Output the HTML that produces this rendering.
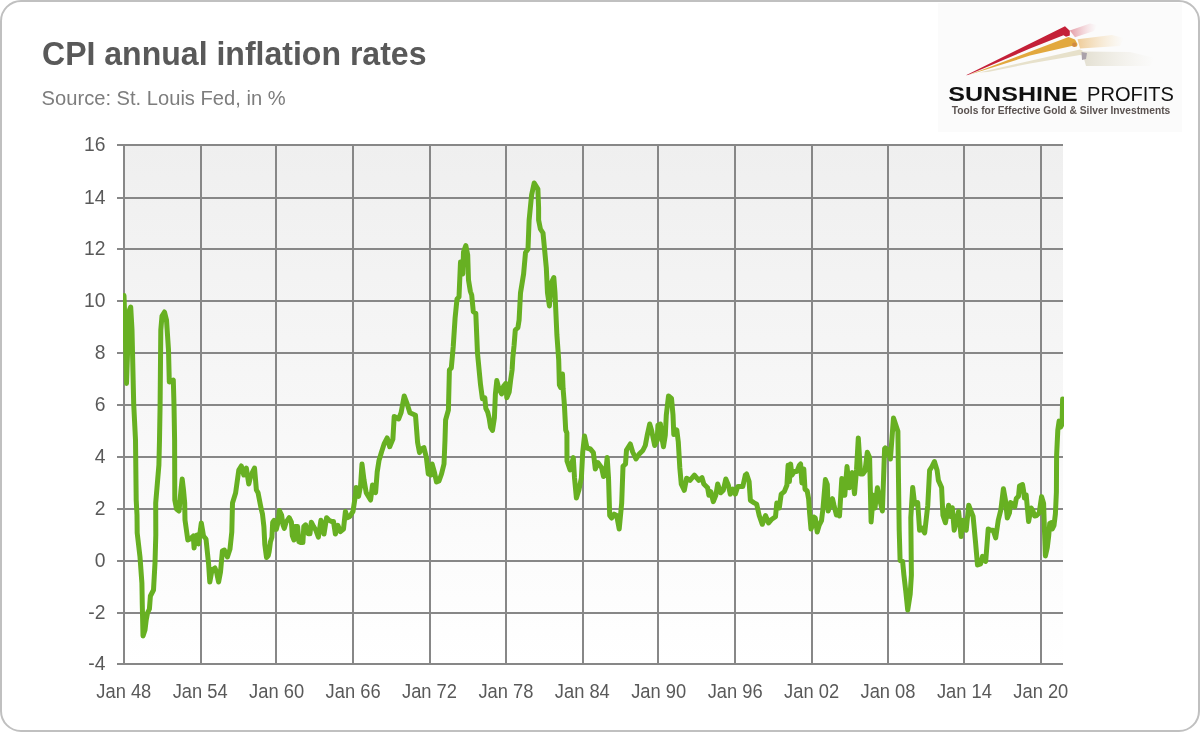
<!DOCTYPE html>
<html><head><meta charset="utf-8"><style>
html,body{margin:0;padding:0;background:#fff;width:1200px;height:732px;overflow:hidden}
svg{display:block;will-change:transform}
text{font-family:"Liberation Sans",sans-serif}
</style></head><body>
<svg width="1200" height="732" viewBox="0 0 1200 732">
<defs>
<linearGradient id="bg" x1="0" y1="0" x2="0" y2="1">
<stop offset="0" stop-color="#efefef"/><stop offset="1" stop-color="#ffffff"/>
</linearGradient>
<linearGradient id="fr" x1="0" y1="0" x2="1" y2="0">
<stop offset="0" stop-color="#c8283c"/><stop offset="0.7" stop-color="#c8283c"/><stop offset="1" stop-color="#c8283c" stop-opacity="0"/>
</linearGradient>
</defs>
<rect x="1" y="1" width="1198" height="730" rx="20" ry="20" fill="#fff" stroke="#c0c0c0" stroke-width="2"/>

<rect x="124" y="145" width="939" height="519" fill="url(#bg)"/>
<line x1="117" y1="145" x2="1063" y2="145" stroke="#878787" stroke-width="2"/>
<line x1="117" y1="198" x2="1063" y2="198" stroke="#878787" stroke-width="2"/>
<line x1="117" y1="249" x2="1063" y2="249" stroke="#878787" stroke-width="2"/>
<line x1="117" y1="301" x2="1063" y2="301" stroke="#878787" stroke-width="2"/>
<line x1="117" y1="353" x2="1063" y2="353" stroke="#878787" stroke-width="2"/>
<line x1="117" y1="405" x2="1063" y2="405" stroke="#878787" stroke-width="2"/>
<line x1="117" y1="457" x2="1063" y2="457" stroke="#878787" stroke-width="2"/>
<line x1="117" y1="509" x2="1063" y2="509" stroke="#878787" stroke-width="2"/>
<line x1="117" y1="561" x2="1063" y2="561" stroke="#878787" stroke-width="2"/>
<line x1="117" y1="613" x2="1063" y2="613" stroke="#878787" stroke-width="2"/>
<line x1="117" y1="664" x2="1063" y2="664" stroke="#878787" stroke-width="2"/>
<line x1="124" y1="144" x2="124" y2="665" stroke="#878787" stroke-width="2"/>
<line x1="201" y1="144" x2="201" y2="665" stroke="#878787" stroke-width="2"/>
<line x1="276" y1="144" x2="276" y2="665" stroke="#878787" stroke-width="2"/>
<line x1="353" y1="144" x2="353" y2="665" stroke="#878787" stroke-width="2"/>
<line x1="430" y1="144" x2="430" y2="665" stroke="#878787" stroke-width="2"/>
<line x1="506" y1="144" x2="506" y2="665" stroke="#878787" stroke-width="2"/>
<line x1="583" y1="144" x2="583" y2="665" stroke="#878787" stroke-width="2"/>
<line x1="658" y1="144" x2="658" y2="665" stroke="#878787" stroke-width="2"/>
<line x1="735" y1="144" x2="735" y2="665" stroke="#878787" stroke-width="2"/>
<line x1="812" y1="144" x2="812" y2="665" stroke="#878787" stroke-width="2"/>
<line x1="888" y1="144" x2="888" y2="665" stroke="#878787" stroke-width="2"/>
<line x1="964" y1="144" x2="964" y2="665" stroke="#878787" stroke-width="2"/>
<line x1="1041" y1="144" x2="1041" y2="665" stroke="#878787" stroke-width="2"/>
<text x="105.5" y="151.2" font-size="19.3" fill="#595959" text-anchor="end">16</text>
<text x="105.5" y="204.2" font-size="19.3" fill="#595959" text-anchor="end">14</text>
<text x="105.5" y="255.2" font-size="19.3" fill="#595959" text-anchor="end">12</text>
<text x="105.5" y="307.2" font-size="19.3" fill="#595959" text-anchor="end">10</text>
<text x="105.5" y="359.2" font-size="19.3" fill="#595959" text-anchor="end">8</text>
<text x="105.5" y="411.2" font-size="19.3" fill="#595959" text-anchor="end">6</text>
<text x="105.5" y="463.2" font-size="19.3" fill="#595959" text-anchor="end">4</text>
<text x="105.5" y="515.2" font-size="19.3" fill="#595959" text-anchor="end">2</text>
<text x="105.5" y="567.2" font-size="19.3" fill="#595959" text-anchor="end">0</text>
<text x="105.5" y="619.2" font-size="19.3" fill="#595959" text-anchor="end">-2</text>
<text x="105.5" y="670.2" font-size="19.3" fill="#595959" text-anchor="end">-4</text>
<text x="123.8" y="698" font-size="19.3" fill="#595959" text-anchor="middle" textLength="55" lengthAdjust="spacingAndGlyphs">Jan 48</text>
<text x="200.2" y="698" font-size="19.3" fill="#595959" text-anchor="middle" textLength="55" lengthAdjust="spacingAndGlyphs">Jan 54</text>
<text x="276.6" y="698" font-size="19.3" fill="#595959" text-anchor="middle" textLength="55" lengthAdjust="spacingAndGlyphs">Jan 60</text>
<text x="353.1" y="698" font-size="19.3" fill="#595959" text-anchor="middle" textLength="55" lengthAdjust="spacingAndGlyphs">Jan 66</text>
<text x="429.5" y="698" font-size="19.3" fill="#595959" text-anchor="middle" textLength="55" lengthAdjust="spacingAndGlyphs">Jan 72</text>
<text x="505.9" y="698" font-size="19.3" fill="#595959" text-anchor="middle" textLength="55" lengthAdjust="spacingAndGlyphs">Jan 78</text>
<text x="582.3" y="698" font-size="19.3" fill="#595959" text-anchor="middle" textLength="55" lengthAdjust="spacingAndGlyphs">Jan 84</text>
<text x="658.7" y="698" font-size="19.3" fill="#595959" text-anchor="middle" textLength="55" lengthAdjust="spacingAndGlyphs">Jan 90</text>
<text x="735.2" y="698" font-size="19.3" fill="#595959" text-anchor="middle" textLength="55" lengthAdjust="spacingAndGlyphs">Jan 96</text>
<text x="811.6" y="698" font-size="19.3" fill="#595959" text-anchor="middle" textLength="55" lengthAdjust="spacingAndGlyphs">Jan 02</text>
<text x="888.0" y="698" font-size="19.3" fill="#595959" text-anchor="middle" textLength="55" lengthAdjust="spacingAndGlyphs">Jan 08</text>
<text x="964.4" y="698" font-size="19.3" fill="#595959" text-anchor="middle" textLength="55" lengthAdjust="spacingAndGlyphs">Jan 14</text>
<text x="1040.8" y="698" font-size="19.3" fill="#595959" text-anchor="middle" textLength="55" lengthAdjust="spacingAndGlyphs">Jan 20</text>
<text x="42" y="65.3" font-size="33.4" font-weight="bold" fill="#595959" textLength="384.5" lengthAdjust="spacingAndGlyphs">CPI annual inflation rates</text>
<text x="41.6" y="104.9" font-size="20" fill="#7d7d7d" textLength="244" lengthAdjust="spacingAndGlyphs">Source: St. Louis Fed, in %</text>
<rect x="938" y="3" width="244" height="129" fill="#fbfbfb"/>
<defs>
<linearGradient id="tp" x1="0" y1="0" x2="1" y2="0"><stop offset="0" stop-color="#dc7a88" stop-opacity="0.75"/><stop offset="1" stop-color="#f0b8c0" stop-opacity="0"/></linearGradient>
<linearGradient id="tg" x1="0" y1="0" x2="1" y2="0"><stop offset="0" stop-color="#ecc080" stop-opacity="0.8"/><stop offset="1" stop-color="#f4dcb0" stop-opacity="0"/></linearGradient>
<linearGradient id="tb" x1="0" y1="0" x2="1" y2="0"><stop offset="0" stop-color="#e0dccc" stop-opacity="0.9"/><stop offset="1" stop-color="#ece8dc" stop-opacity="0"/></linearGradient>
</defs>
<polygon points="1069.8,30.6 1090,23.5 1097,25 1094,31 1075,37.3" fill="url(#tp)"/>
<polygon points="1077.5,39.2 1112,35 1124,38 1120,46 1080,48.5" fill="url(#tg)"/>
<polygon points="1082,51.5 1130,52 1155,58 1150,66 1086,66" fill="url(#tb)"/>
<polygon points="979,72.5 1080,49.5 1082.5,50.5 1082.5,55.5 1080,55 1030,63.5 988,72" fill="#e7e1cb"/>
<polygon points="1081.5,52 1087,53 1086,59 1082,60" fill="#aaa2aa"/>
<polygon points="968.5,75 1068.5,37 1075,39.5 1077.5,44 1077,46.6 1071.7,46 1030,55.6 975,73" fill="#e2a83e"/>
<circle cx="1074.3" cy="44.8" r="2.2" fill="#d08a44"/>
<polygon points="966,75.2 1065,26.3 1069.8,30.8 1069.8,35.6 1066,36.8 1063.5,35.2 1030,48.6 968,75" fill="#c42038"/>
<text x="948.3" y="101.3" font-size="20.3" font-weight="bold" fill="#111111" textLength="129.5" lengthAdjust="spacingAndGlyphs">SUNSHINE</text>
<text x="1087" y="101.3" font-size="20.3" fill="#111111" textLength="87" lengthAdjust="spacingAndGlyphs">PROFITS</text>
<text x="951.8" y="113.6" font-size="10.6" font-weight="bold" fill="#5a5250" textLength="218.5" lengthAdjust="spacingAndGlyphs">Tools for Effective Gold &amp; Silver Investments</text>

<clipPath id="pc"><rect x="123" y="100" width="941" height="600"/></clipPath>
<path d="M124.0,295.5 L125.5,340.0 L126.5,383.5 L128.0,340.0 L129.5,310.0 L130.7,307.0 L132.0,330.0 L133.7,404.0 L135.5,440.0 L136.2,500.0 L137.0,515.0 L137.2,533.0 L140.0,557.0 L141.9,583.0 L142.3,605.0 L143.0,636.0 L145.0,630.0 L146.2,620.0 L147.5,613.0 L149.4,609.0 L150.4,596.0 L153.5,590.0 L155.0,563.0 L155.8,535.0 L155.7,503.0 L158.9,465.0 L159.5,440.0 L160.1,405.0 L160.8,330.0 L162.0,316.0 L164.5,312.0 L166.5,320.0 L168.5,350.0 L169.3,382.0 L171.0,381.0 L173.3,380.0 L174.0,405.0 L174.6,440.0 L174.8,500.0 L176.5,509.0 L179.0,511.0 L181.0,490.0 L182.2,479.0 L183.5,490.0 L184.7,503.0 L185.0,520.0 L187.8,540.0 L190.0,539.0 L193.3,536.0 L194.1,548.0 L195.5,536.0 L197.2,535.0 L198.5,544.0 L201.3,523.0 L203.5,536.0 L206.0,539.0 L208.6,564.0 L209.8,582.0 L212.0,570.0 L214.9,568.0 L216.5,572.0 L218.6,582.0 L220.5,572.0 L222.4,551.0 L224.3,550.0 L227.4,557.0 L230.0,549.0 L231.8,532.0 L232.5,503.0 L235.6,493.0 L238.8,470.0 L241.3,466.0 L243.8,475.0 L246.3,468.0 L248.8,484.0 L251.0,475.0 L254.5,468.0 L256.4,490.0 L258.0,492.6 L261.2,508.9 L262.5,514.2 L263.9,526.6 L264.8,544.4 L266.5,557.5 L268.3,555.5 L269.2,551.5 L270.5,541.7 L271.9,537.3 L272.7,522.2 L274.1,520.4 L276.3,529.3 L278.1,522.2 L279.4,510.6 L281.6,515.1 L283.0,524.8 L284.3,528.4 L286.1,522.2 L289.2,517.7 L291.4,522.2 L292.3,535.5 L294.0,540.0 L294.9,526.6 L297.6,526.6 L298.9,541.7 L301.1,542.6 L302.9,542.6 L303.8,526.6 L305.6,524.8 L308.2,533.7 L310.0,533.7 L311.3,522.2 L313.6,526.6 L315.9,530.3 L318.4,537.2 L320.9,520.3 L322.2,524.0 L324.0,534.0 L326.6,517.7 L329.0,520.3 L331.6,521.5 L333.5,521.5 L335.4,534.0 L337.9,525.3 L340.4,531.6 L343.5,529.0 L345.4,511.4 L347.3,517.7 L349.8,516.5 L353.0,511.4 L354.9,498.9 L356.1,487.5 L358.6,496.4 L360.5,486.3 L362.0,464.0 L364.0,480.0 L366.2,492.6 L370.6,500.0 L372.5,485.0 L375.6,492.6 L377.2,472.0 L379.0,460.5 L381.6,451.7 L384.1,444.0 L387.2,437.9 L389.7,446.7 L392.9,439.0 L394.2,416.5 L398.6,419.0 L401.1,412.7 L404.2,396.0 L406.7,402.6 L409.9,412.7 L415.5,415.2 L417.6,442.6 L419.5,452.6 L421.5,449.0 L423.9,447.6 L426.4,457.7 L428.3,474.0 L430.8,475.0 L432.1,464.0 L434.6,473.0 L436.5,482.0 L439.0,481.0 L441.5,474.0 L444.0,464.0 L445.0,440.0 L445.6,420.0 L448.4,410.0 L449.4,370.0 L451.3,368.0 L453.2,347.0 L455.1,318.0 L457.0,299.0 L459.0,297.0 L460.5,262.0 L462.8,274.0 L463.5,252.0 L465.8,245.5 L467.7,255.0 L468.5,280.0 L470.4,291.5 L471.7,295.0 L473.3,311.7 L475.8,313.3 L477.5,353.3 L480.5,384.4 L482.4,398.7 L484.8,397.8 L485.8,408.3 L487.7,412.1 L489.1,417.8 L490.6,427.4 L492.5,430.3 L494.4,417.8 L495.4,393.9 L496.8,380.5 L498.7,388.2 L501.6,393.9 L503.5,386.3 L505.9,383.4 L506.8,397.8 L509.2,392.0 L510.7,379.6 L512.1,370.0 L512.8,357.8 L514.1,345.2 L515.3,330.0 L517.9,327.6 L519.1,320.0 L520.5,293.0 L523.6,274.0 L525.5,252.6 L528.0,249.0 L529.1,220.3 L531.6,195.0 L534.2,183.0 L537.9,189.0 L538.6,208.0 L538.6,220.0 L540.4,229.0 L543.0,233.0 L544.2,245.5 L546.3,267.7 L547.5,293.0 L549.4,306.0 L551.3,283.0 L553.8,277.5 L555.0,293.0 L556.9,335.0 L558.7,360.0 L559.4,385.0 L560.6,387.5 L562.5,374.0 L563.1,388.8 L564.4,405.0 L565.7,430.0 L566.9,433.0 L567.0,461.0 L570.1,470.0 L573.3,457.6 L574.5,477.7 L576.4,498.0 L578.9,490.0 L581.4,477.7 L582.7,452.6 L584.5,436.0 L587.0,448.0 L590.3,449.0 L593.4,452.6 L595.3,469.0 L597.8,462.6 L601.6,467.7 L603.5,476.5 L605.3,475.2 L607.2,457.6 L608.5,477.7 L609.7,515.5 L611.6,518.0 L614.2,514.2 L616.7,515.5 L619.2,529.0 L621.7,503.0 L623.0,466.4 L625.5,464.0 L626.5,450.0 L630.3,444.0 L632.7,452.0 L636.0,459.0 L639.0,454.3 L642.8,450.5 L645.3,445.5 L647.2,435.4 L649.7,424.0 L651.6,430.4 L654.7,445.5 L657.2,440.4 L657.9,425.3 L660.4,424.0 L662.3,440.4 L663.5,446.7 L665.3,435.0 L666.3,415.0 L668.5,396.0 L671.5,398.5 L673.0,415.0 L673.8,434.6 L676.8,430.0 L678.3,442.0 L679.8,467.7 L681.3,484.2 L684.3,490.3 L686.6,478.2 L690.0,480.3 L694.4,475.2 L698.8,480.3 L702.0,477.7 L703.8,484.0 L707.6,487.8 L708.9,495.3 L710.8,491.6 L713.3,501.6 L715.8,495.3 L717.7,484.0 L720.8,492.8 L723.3,490.3 L725.8,479.0 L728.4,485.3 L730.3,494.1 L732.8,489.0 L735.3,494.1 L737.8,486.5 L742.8,486.5 L745.3,475.2 L746.6,474.0 L749.1,481.5 L750.4,500.4 L754.2,502.9 L756.7,504.2 L759.2,515.5 L762.3,524.3 L765.5,515.5 L768.6,523.0 L771.8,519.2 L775.5,516.7 L776.8,502.9 L779.3,507.9 L781.2,494.1 L784.3,491.6 L786.9,485.3 L788.1,465.2 L789.4,481.5 L790.6,463.9 L791.9,475.2 L794.4,471.4 L796.9,471.4 L799.4,465.2 L800.6,464.0 L801.9,482.9 L803.8,469.0 L805.0,489.2 L807.2,491.0 L808.6,498.7 L809.6,513.0 L811.0,529.0 L812.5,525.0 L813.9,517.0 L815.3,518.0 L817.2,532.0 L819.1,525.5 L821.5,520.7 L823.0,508.3 L825.4,479.6 L827.3,484.4 L828.2,511.1 L830.6,503.5 L832.5,498.7 L834.0,505.4 L836.4,515.0 L838.3,513.1 L839.5,516.0 L841.8,478.6 L844.8,495.2 L847.0,466.6 L849.3,487.7 L852.3,472.6 L854.5,493.7 L856.5,470.0 L858.3,438.0 L860.6,474.1 L862.8,474.1 L865.0,471.1 L867.3,452.3 L869.6,457.6 L871.1,522.0 L873.3,495.2 L875.0,508.0 L877.4,487.7 L880.1,501.2 L882.4,511.0 L884.6,448.6 L885.3,447.8 L888.0,450.2 L890.4,459.0 L893.5,418.0 L897.9,431.4 L898.5,480.0 L899.2,530.0 L900.1,560.5 L902.6,561.3 L903.9,575.0 L905.8,591.5 L907.7,610.0 L910.2,594.0 L911.4,575.0 L910.8,517.7 L912.7,487.5 L914.6,503.9 L917.7,502.6 L919.6,530.3 L921.5,527.8 L924.7,532.8 L927.8,505.2 L929.6,470.3 L932.0,466.5 L934.4,461.6 L937.1,470.3 L938.4,480.4 L941.6,487.5 L942.9,515.2 L945.4,522.8 L948.6,505.2 L950.4,516.5 L952.3,507.7 L954.2,530.3 L958.6,511.4 L961.1,536.6 L963.0,520.3 L966.2,530.3 L968.7,505.2 L973.1,516.5 L975.6,542.9 L977.5,565.0 L980.6,563.8 L982.5,556.3 L985.7,561.3 L988.2,529.0 L990.7,530.3 L993.2,530.3 L995.7,537.9 L998.3,520.0 L1000.8,510.2 L1003.4,488.8 L1005.4,500.0 L1007.3,518.0 L1009.5,512.8 L1010.5,502.5 L1012.5,503.8 L1014.8,506.8 L1016.3,498.5 L1018.5,496.3 L1019.5,486.0 L1022.5,484.5 L1023.6,491.0 L1024.4,498.0 L1026.2,495.0 L1028.6,521.5 L1031.2,508.0 L1032.8,510.6 L1034.6,516.0 L1036.6,515.5 L1039.2,513.0 L1041.6,496.6 L1043.6,503.5 L1044.4,528.2 L1045.4,556.0 L1047.3,547.4 L1048.7,535.9 L1049.7,523.5 L1051.6,522.5 L1052.3,529.0 L1054.0,525.4 L1055.4,513.9 L1056.4,492.0 L1056.6,455.7 L1057.8,430.1 L1059.1,421.1 L1060.6,427.1 L1062.1,424.1 L1062.6,399.0" clip-path="url(#pc)" fill="none" stroke="#67b022" stroke-width="5" stroke-linejoin="round" stroke-linecap="round"/>
</svg></body></html>
